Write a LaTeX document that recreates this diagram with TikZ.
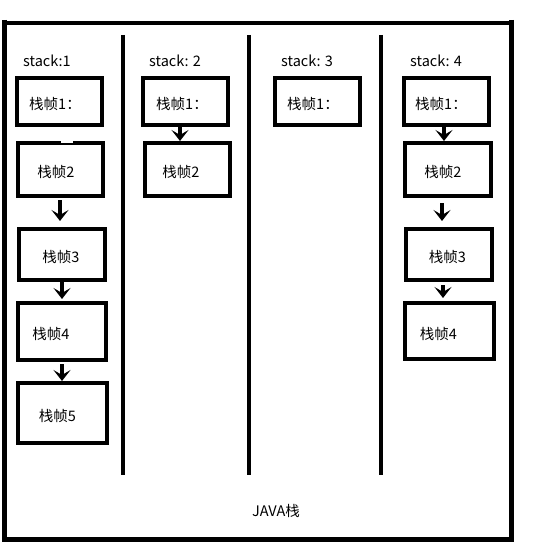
\documentclass[tikz,border=0pt]{standalone}
\usepackage{fontspec}
\setmainfont{Noto Sans CJK SC}
\usetikzlibrary{arrows.meta}
\begin{document}
\begin{tikzpicture}[x=1pt,y=-1pt,
  thickline/.style={line width=4.5pt},
  frame/.style={draw, line width=4pt, inner sep=0pt, fill=white, text height=16pt, text depth=0pt},
  lbl/.style={font=\fontsize{14.5}{16}\selectfont, inner sep=0pt},
  tx/.style={execute at begin node={\hspace*{#1}}},
  flow/.style={line width=4pt, -{Stealth[length=11pt,width=17pt,inset=5pt]}},
  notch/.style={draw=white, line width=4.5pt}
]
\useasboundingbox (0,0) rectangle (544,548);
\fill[white] (0,0) rectangle (544,548);
% outer frame
\draw[thickline] (4.5,20) -- (4.5,539.5) -- (511.5,539.5);
\draw[thickline] (4.5,23) -- (511.5,23);
\draw[thickline] (511.5,20) -- (511.5,542);
% dividers
\draw[thickline] (123,35) -- (123,475);
\draw[thickline] (249,35) -- (249,475);
\draw[thickline] (381,35) -- (381,475);
% stack labels
\node[lbl, anchor=west] (s1) at (23,61) {stack:1};
\node[lbl, anchor=west] (s2) at (149,61) {stack: 2};
\node[lbl, anchor=west] (s3) at (281,61) {stack: 3};
\node[lbl, anchor=west] (s4) at (410,61) {stack: 4};
% column 1
\node[frame, lbl, tx=-9pt, minimum width=85pt, minimum height=47pt] (a1) at (59.5,101.5) {栈帧1：};
\node[frame, lbl, tx=-9pt, minimum width=85pt, minimum height=53pt] (a2) at (60.5,169.5) {栈帧2};
\node[frame, lbl, tx=-2pt, minimum width=86pt, minimum height=51pt] (a3) at (62,254.5) {栈帧3};
\node[frame, lbl, tx=-22pt, minimum width=88pt, minimum height=57pt] (a4) at (62,331.5) {栈帧4};
\node[frame, lbl, tx=-10pt, minimum width=89pt, minimum height=60pt] (a5) at (62.5,413) {栈帧5};
\draw[notch] (a2.north) -- ++(12,0);
\draw[flow, shorten <=2pt, shorten >=6pt] ([xshift=-0.5pt]a2.south) -- ([xshift=-2pt]a3.north);
\draw[flow, shorten >=2pt] (a3.south) -- (a4.north);
\draw[flow, shorten <=2pt] (a4.south) -- ([xshift=-0.5pt]a5.north);
% column 2
\node[frame, lbl, tx=-7pt, minimum width=85pt, minimum height=47pt] (b1) at (185.5,101.5) {栈帧1：};
\node[frame, lbl, tx=-13pt, minimum width=85pt, minimum height=53pt] (b2) at (187.5,169.5) {栈帧2};
\draw[flow] ([xshift=-5.5pt]b1.south) -- ([xshift=-7.5pt]b2.north);
% column 3
\node[frame, lbl, tx=-9pt, minimum width=85pt, minimum height=47pt] (c1) at (317.5,101.5) {栈帧1：};
% column 4
\node[frame, lbl, tx=-11pt, minimum width=85pt, minimum height=47pt] (d1) at (446.5,101.5) {栈帧1：};
\node[frame, lbl, tx=-10pt, minimum width=86pt, minimum height=53pt] (d2) at (448,169.5) {栈帧2};
\node[frame, lbl, tx=-3pt, minimum width=86pt, minimum height=51pt] (d3) at (449,254.5) {栈帧3};
\node[frame, lbl, tx=-22pt, minimum width=89pt, minimum height=56pt] (d4) at (449.5,331) {栈帧4};
\draw[flow] ([xshift=-2.5pt]d1.south) -- ([xshift=-4pt]d2.north);
\draw[flow, shorten <=5pt, shorten >=6pt] ([xshift=-6pt]d2.south) -- ([xshift=-7pt]d3.north);
\draw[flow, shorten <=3pt, shorten >=3pt] ([xshift=-6pt]d3.south) -- ([xshift=-6.5pt]d4.north);
% label
\node[lbl] (java) at (276,511) {JAVA栈};
\end{tikzpicture}
\end{document}
